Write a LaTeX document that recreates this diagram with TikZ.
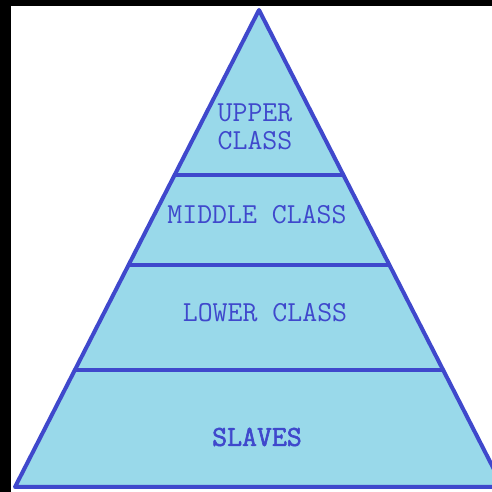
\documentclass[tikz,border=0pt]{standalone}
\usepackage{fontspec}
\setmonofont{Latin Modern Mono}[AutoFakeBold=2]
\usetikzlibrary{calc}
\definecolor{pyLine}{HTML}{3F48CC}
\definecolor{pyFill}{HTML}{99D9EA}
\tikzset{
  py tier/.style={draw=pyLine, fill=pyFill, line width=2pt, line join=round},
  py divider/.style={draw=pyLine, line width=2pt},
  py label/.style={font=\ttfamily\fontsize{14.5}{14}\selectfont, text=pyLine,
    inner sep=0pt, align=center}
}

\begin{document}
\begin{tikzpicture}[x=.5pt,y=.5pt]
  \useasboundingbox (0,0) rectangle (492,492);
  \fill[black] (0,0) rectangle (492,492);
  \fill[white] (11,0) rectangle (492,486);
  \clip (11,0) rectangle (492,486);

  \coordinate (apex) at (259,482);
  \coordinate (baseL) at (15,5);
  \coordinate (baseR) at (503,5);
  \path[py tier] (apex) -- (baseL) -- (baseR) -- cycle;

  % tier boundaries
  \foreach \t in {.346,.535,.755} {
    \draw[py divider] ($(apex)!\t!(baseL)$) -- ($(apex)!\t!(baseR)$);
  }

  \node[py label] (upper) at (255,365) {UPPER\\CLASS};
  \node[py label] (middle) at (257,277) {MIDDLE CLASS};
  \node[py label] (lower) at (265,179) {LOWER CLASS};
  \node[py label, font=\ttfamily\bfseries\fontsize{14.5}{14}\selectfont] (slaves)
    at (257,55) {SLAVES};
\end{tikzpicture}
\end{document}
